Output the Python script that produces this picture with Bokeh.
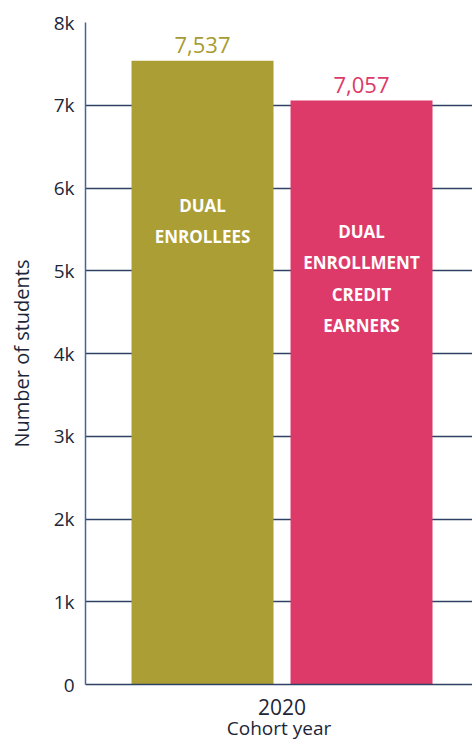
from bokeh.plotting import figure
from bokeh.models import FixedTicker, Range1d, ColumnDataSource
from bokeh.core.properties import value
from bokeh.embed import file_html
from bokeh.resources import INLINE

# ---- data ----
categories = ["Dual enrollees", "Dual enrollment credit earners"]
students = [7537, 7057]
value_labels = ["7,537", "7,057"]
bar_text = [["DUAL", "ENROLLEES"], ["DUAL", "ENROLLMENT", "CREDIT", "EARNERS"]]
cohort_label = "2020"
y_ticks = [0, 1000, 2000, 3000, 4000, 5000, 6000, 7000, 8000]
y_tick_labels = ["0", "1k", "2k", "3k", "4k", "5k", "6k", "7k", "8k"]

# ---- style ----
bar_colors = ["#ab9e35", "#de3a69"]
label_colors = ["#a89b33", "#dc3a6a"]
ink = "#1c2638"
grid_col = "#2e4266"
axis_col = "#4463a0"
FONT = "Open Sans"

W, H = 472, 743
p = figure(width=W, height=H, output_backend="svg", toolbar_location=None,
           x_range=Range1d(-0.736, 1.698), y_range=Range1d(0, 8000),
           min_border_left=85, min_border_right=0, min_border_top=22,
           min_border_bottom=59)
p.outline_line_color = None
p.background_fill_color = "white"

px_per_unit = 662 / 8000.0

xs = list(range(len(categories)))
src = ColumnDataSource(dict(x=xs, top=students, color=bar_colors,
                            lab=value_labels, lcol=label_colors,
                            ly=[s + 16 / px_per_unit for s in students]))
p.vbar(x="x", top="top", bottom=0, width=0.893, color="color", source=src,
       line_color=None)

p.text(x="x", y="ly", text="lab", text_color="lcol", source=src,
       text_font=value(FONT), text_font_size="22px", text_align="center",
       text_baseline="middle")

# inside labels
block_top = [5790, 5480]
step = 31.5 / px_per_unit
for i, lines in enumerate(bar_text):
    ys = [block_top[i] - j * step for j in range(len(lines))]
    p.text(x=[xs[i]] * len(lines), y=ys, text=lines, text_color="white",
           text_font=value(FONT), text_font_size="17px", text_font_style="bold",
           text_align="center", text_baseline="middle")

# axes
p.yaxis.ticker = FixedTicker(ticks=y_ticks)
p.yaxis.major_label_overrides = {t: l for t, l in zip(y_ticks, y_tick_labels)}
p.yaxis.axis_label = "Number of students"
p.yaxis.axis_label_text_font = FONT
p.yaxis.axis_label_text_font_style = "normal"
p.yaxis.axis_label_text_font_size = "20px"
p.yaxis.axis_label_text_color = ink
p.yaxis.axis_label_standoff = 16
p.yaxis.major_label_text_font = FONT
p.yaxis.major_label_text_font_size = "19px"
p.yaxis.major_label_text_color = ink
p.yaxis.major_label_standoff = 5
p.yaxis.major_tick_line_color = None
p.yaxis.minor_tick_line_color = None
p.yaxis.axis_line_color = axis_col
p.yaxis.axis_line_width = 1.5

p.xaxis.ticker = FixedTicker(ticks=[0.5])
p.xaxis.major_label_overrides = {0.5: cohort_label}
p.xaxis.axis_label = "Cohort year"
p.xaxis.axis_label_text_font = FONT
p.xaxis.axis_label_text_font_style = "normal"
p.xaxis.axis_label_text_font_size = "19px"
p.xaxis.axis_label_text_color = ink
p.xaxis.axis_label_standoff = -3
p.xaxis.major_label_text_font = FONT
p.xaxis.major_label_text_font_size = "21px"
p.xaxis.major_label_text_color = ink
p.xaxis.major_label_standoff = 8
p.xaxis.major_tick_line_color = None
p.xaxis.minor_tick_line_color = None
p.xaxis.axis_line_color = grid_col
p.xaxis.axis_line_width = 1.5

p.xgrid.grid_line_color = None
p.ygrid.grid_line_color = grid_col
p.ygrid.grid_line_width = 1.5

open("out.html", "w").write(file_html(p, INLINE))
